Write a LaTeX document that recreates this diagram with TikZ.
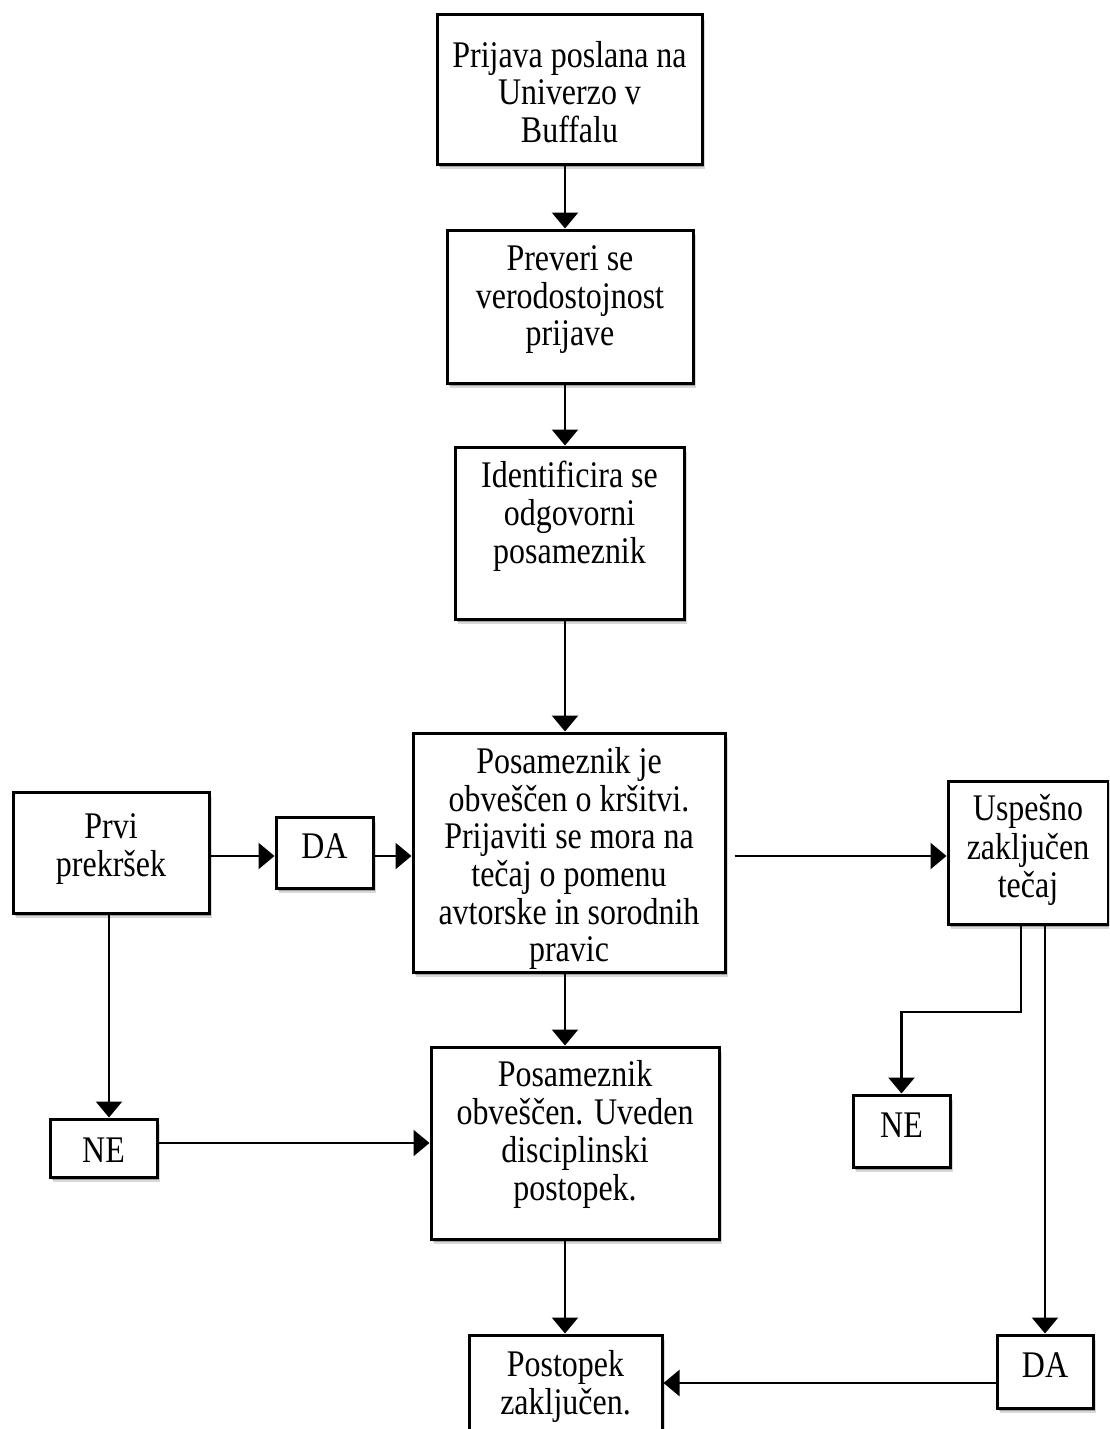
\documentclass[tikz,border=0pt]{standalone}
\usepackage{fontspec}
\setmainfont{Liberation Serif}[FakeStretch=0.85]
\usetikzlibrary{arrows.meta,shadows}
\begin{document}
\begin{tikzpicture}[x=1pt,y=-1pt,
  box/.style={draw, line width=3pt, fill=white, inner sep=0pt,
     drop shadow={shadow xshift=3pt, shadow yshift=-5pt, opacity=0.15, fill=black},
     drop shadow={shadow xshift=1.5pt, shadow yshift=-2.5pt, opacity=0.25, fill=black}},
  txt/.style={align=center, inner sep=0pt, font=\fontsize{37.6}{37}\selectfont},
  arr/.style={line width=2.5pt, -{Triangle[width=26pt,length=16pt]}}]
\useasboundingbox (0,0) rectangle (1109,1429);
\fill[white] (0,0) rectangle (1109,1429);
\clip (0,0) rectangle (1109,1429);

% boxes
\node[box, minimum width=265pt, minimum height=149pt] (b1) at (569.5,89.5) {};
\node[txt] (t1) at (569.5,97.6) {\strut Prijava poslana na\\\strut Univerzo v\\\strut Buffalu};

\node[box, minimum width=246pt, minimum height=153pt] (b2) at (570,306.5) {};
\node[txt] (t2) at (570,300.6) {\strut Preveri se\\\strut verodostojnost\\\strut prijave};

\node[box, minimum width=229pt, minimum height=172pt] (b3) at (569.5,533) {};
\node[txt] (t3) at (569.5,517.6) {\strut Identificira se\\\strut odgovorni\\\strut posameznik};

\node[box, minimum width=312pt, minimum height=239pt] (b4) at (569,852.5) {};
\node[txt] (t4) at (569,860) {\strut Posameznik je\\\strut obveščen o kršitvi.\\\strut Prijaviti se mora na\\\strut tečaj o pomenu\\\strut avtorske in sorodnih\\\strut pravic};

\node[box, minimum width=196pt, minimum height=121pt] (prvi) at (111,852.5) {};
\node[txt] (t5) at (111,850) {\strut Prvi\\\strut prekršek};

\node[box, minimum width=97pt, minimum height=71pt] (da1) at (324.5,852.5) {};
\node[txt] (t6) at (324.5,850.6) {\strut DA};

\node[box, minimum width=160pt, minimum height=143pt] (usp) at (1028,852.5) {};
\node[txt] (t7) at (1028,851.6) {\strut Uspešno\\\strut zaključen\\\strut tečaj};

\node[box, minimum width=107pt, minimum height=58pt] (nel) at (103.5,1148) {};
\node[txt] (t8) at (103.5,1154.6) {\strut NE};

\node[box, minimum width=97pt, minimum height=72pt] (ner) at (901.5,1131) {};
\node[txt] (t9) at (901.5,1129.6) {\strut NE};

\node[box, minimum width=288pt, minimum height=192pt] (b5) at (575,1143) {};
\node[txt] (t10) at (575,1136) {\strut Posameznik\\\strut obveščen. Uveden\\\strut disciplinski\\\strut postopek.};

\node[box, minimum width=193pt, minimum height=110pt] (pos) at (565.5,1390) {};
\node[txt] (t11) at (565.5,1388) {\strut Postopek\\\strut zaključen.};

\node[box, minimum width=96pt, minimum height=73pt] (da2) at (1045,1371.5) {};
\node[txt] (t12) at (1045,1369.6) {\strut DA};

% connectors
\coordinate (col) at (565,0);
\draw[arr] (b1.south -| col) -- (b2.north -| col);
\draw[arr] (b2.south -| col) -- (b3.north -| col);
\draw[arr] (b3.south -| col) -- (b4.north -| col);
\draw[arr] (b4.south -| col) -- (b5.north -| col);
\draw[arr] (b5.south -| col) -- (pos.north -| col);

\coordinate (row) at (0,856);
\draw[arr] (prvi.east |- row) -- (da1.west |- row);
\draw[arr] (da1.east |- row) -- (b4.west |- row);
\draw[arr, shorten <=8pt] (b4.east |- row) -- (usp.west |- row);

\coordinate (pc) at (109,0);
\draw[arr] (prvi.south -| pc) -- (nel.north -| pc);
\draw[arr] (nel.east |- b5.west) -- (b5.west);

\coordinate (turn) at (1021,1012);
\draw[arr] (usp.south -| turn) -- (turn) -| (ner.north);
\draw[arr] (usp.south -| da2.north) -- (da2.north);

\coordinate (q) at (997,1383);
\draw[arr] (q) -- (q -| pos.east);
\end{tikzpicture}
\end{document}
